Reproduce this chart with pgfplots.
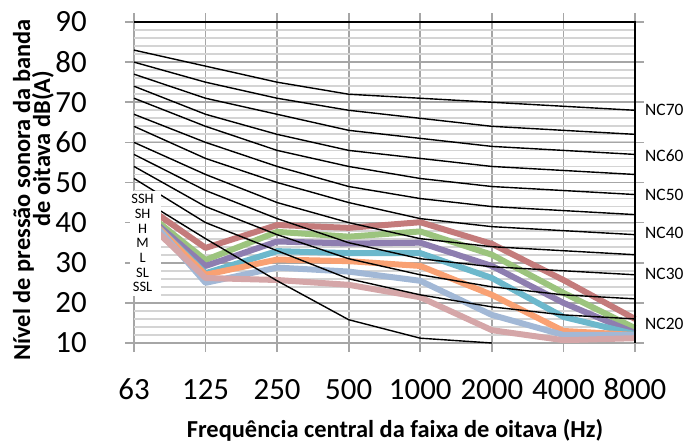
\documentclass[border=0pt]{standalone}
\usepackage{pgfplots}
\pgfplotsset{compat=1.18}
\usepackage{fontspec}
\setmainfont{Carlito}
\definecolor{cSSH}{HTML}{C47B7B}
\definecolor{cSH}{HTML}{9CC47E}
\definecolor{cH}{HTML}{8E7EB0}
\definecolor{cM}{HTML}{6CB8CC}
\definecolor{cL}{HTML}{F9A173}
\definecolor{cSL}{HTML}{A2B8D6}
\definecolor{cSSL}{HTML}{D5A6A8}
\definecolor{gridmaj}{HTML}{A6A6A6}
\definecolor{gridmin}{HTML}{D4D4D4}
\begin{document}
\begin{tikzpicture}
\useasboundingbox (0,0) rectangle (685bp,447bp);
\begin{axis}[
 at={(134bp,104bp)}, anchor=south west,
 scale only axis, width=501bp, height=321bp,
 xmin=0, xmax=7, ymin=10, ymax=90,
 xtick={0,...,7}, xticklabels={63,125,250,500,1000,2000,4000,8000},
 ytick={10,20,...,90},
 minor ytick={12,14,...,88},
 grid=both,
 major grid style={draw=gridmaj, line width=1.6bp},
 minor grid style={draw=gridmin, line width=1.8bp},
 axis line style={draw=none},
 tick align=outside,
 major tick length=9bp, minor tick length=0pt,
 tick style={draw=gridmaj, line width=1.6bp},
 ticklabel style={font=\fontsize{31}{36}\selectfont, inner sep=0pt},
 /pgf/number format/assume math mode=true,
 xticklabel style={anchor=base, yshift=-47bp},
 yticklabel style={anchor=east, xshift=-38bp},
 clip=false,
 every axis plot/.append style={line join=round},
]
% measured curves
\addplot[cSSH, line width=6bp] coordinates {(0,46.2)(1,33.7)(2,39.4)(3,38.7)(4,40.1)(5,34.7)(6,25.7)(7,16)};
\addplot[cSH, line width=6bp] coordinates {(0,44.9)(1,30.7)(2,37.7)(3,36.5)(4,37.8)(5,32)(6,22.5)(7,13.7)};
\addplot[cH, line width=6bp] coordinates {(0,44.5)(1,29.2)(2,35.3)(3,34.8)(4,35)(5,29.2)(6,20)(7,12.5)};
\addplot[cM, line width=6bp] coordinates {(0,44.7)(1,27.4)(2,32.9)(3,32.4)(4,32.4)(5,26.2)(6,16.5)(7,12.2)};
\addplot[cL, line width=6bp] coordinates {(0,44.8)(1,27)(2,30.8)(3,30.4)(4,29.2)(5,22)(6,13)(7,12)};
\addplot[cSL, line width=6bp] coordinates {(0,45.4)(1,25)(2,28.8)(3,27.8)(4,25.5)(5,17)(6,12)(7,12)};
\addplot[cSSL, line width=6bp] coordinates {(0,43.2)(1,26.2)(2,25.7)(3,24.5)(4,21.4)(5,13.2)(6,10.7)(7,11.2)};
% NC curves
\addplot[black, line width=1.4bp] coordinates {(0,83)(1,79)(2,75)(3,72)(4,71)(5,70)(6,69)(7,68)};
\addplot[black, line width=1.4bp] coordinates {(0,80)(1,75)(2,71)(3,68)(4,66)(5,64)(6,63)(7,62)};
\addplot[black, line width=1.4bp] coordinates {(0,77)(1,71)(2,67)(3,63)(4,61)(5,59)(6,58)(7,57)};
\addplot[black, line width=1.4bp] coordinates {(0,74)(1,67)(2,62)(3,58)(4,56)(5,54)(6,53)(7,52)};
\addplot[black, line width=1.4bp] coordinates {(0,71)(1,64)(2,58)(3,54)(4,51)(5,49)(6,48)(7,47)};
\addplot[black, line width=1.4bp] coordinates {(0,67)(1,60)(2,54)(3,49)(4,46)(5,44)(6,43)(7,42)};
\addplot[black, line width=1.4bp] coordinates {(0,64)(1,56)(2,50)(3,45)(4,41)(5,39)(6,38)(7,37)};
\addplot[black, line width=1.4bp] coordinates {(0,60)(1,52)(2,45)(3,40)(4,36)(5,34)(6,33)(7,32)};
\addplot[black, line width=1.4bp] coordinates {(0,57)(1,48)(2,41)(3,35)(4,31)(5,29)(6,28)(7,27)};
\addplot[black, line width=1.4bp] coordinates {(0,54)(1,44)(2,37)(3,31)(4,27)(5,24)(6,22)(7,21)};
\addplot[black, line width=1.4bp] coordinates {(0,51)(1,40)(2,33)(3,26)(4,22)(5,19)(6,17)(7,16)};
\addplot[black, line width=1.4bp] coordinates {(0,47)(1,36)(2,25.5)(3,15.8)(4,11.2)(5,10)};
% borders
\draw[black, line width=1.6bp] (rel axis cs:0,1) -- (rel axis cs:1,1) -- (rel axis cs:1,0);
% label box
\node[fill=white, inner sep=0pt, minimum width=31bp, minimum height=105bp, anchor=north west] at (axis cs:-0.056,47.9) {};
\node[align=center, font=\fontsize{14.5}{14.7}\selectfont, inner sep=0pt] at (axis cs:0.12,34.9) {SSH\\SH\\H\\M\\L\\SL\\SSL};
% NC labels
\begin{scope}[every node/.style={anchor=west, font=\fontsize{17.5}{20}\selectfont, inner sep=0pt, xshift=10bp}]
\node at (axis cs:7,68.1) {NC70};
\node at (axis cs:7,56.6) {NC60};
\node at (axis cs:7,47.0) {NC50};
\node at (axis cs:7,37.5) {NC40};
\node at (axis cs:7,27.2) {NC30};
\node at (axis cs:7,14.7) {NC20};
\end{scope}
\end{axis}
\node[anchor=base, inner sep=0pt, font=\bfseries\fontsize{24.5}{28}\selectfont] at (395bp,9.5bp) {Frequência central da faixa de oitava (Hz)};
\node[rotate=90, anchor=base, inner sep=0pt, font=\bfseries\fontsize{24.5}{28}\selectfont] at (30bp,257bp) {Nível de pressão sonora da banda};
\node[rotate=90, anchor=base, inner sep=0pt, font=\bfseries\fontsize{24.5}{28}\selectfont] at (50bp,298.5bp) {de oitava dB(A)};
\end{tikzpicture}
\end{document}
